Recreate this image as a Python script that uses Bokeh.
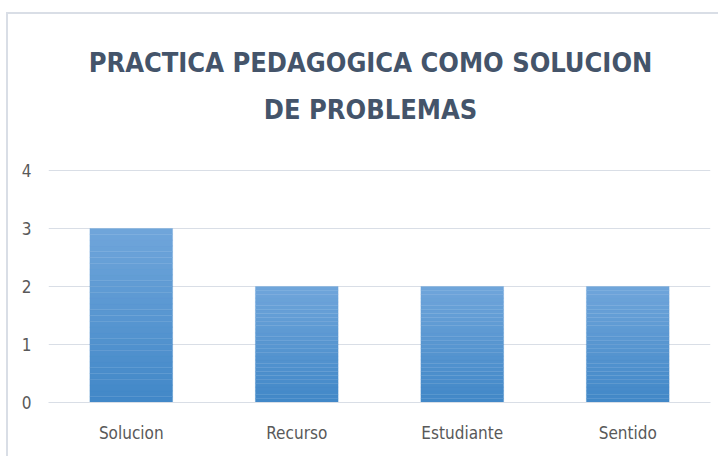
from bokeh.plotting import figure
from bokeh.models import Label, Range1d, FixedTicker
from bokeh.embed import file_html
from bokeh.resources import INLINE

categories = ["Solucion", "Recurso", "Estudiante", "Sentido"]
values = [3, 2, 2, 2]
title_lines = ["PRACTICA PEDAGOGICA COMO SOLUCION", "DE PROBLEMAS"]
y_ticks = [0, 1, 2, 3, 4]

FONT = "'DejaVu Sans Condensed', 'Liberation Sans', sans-serif"

p = figure(x_range=categories, y_range=Range1d(0, 6.586), width=712, height=444,
           output_backend="svg", toolbar_location=None,
           min_border_left=40, min_border_right=10, min_border_top=6, min_border_bottom=56)
p.x_range.range_padding = 0

# gradient-like bars: slices of each bar, darker at the bottom
n = 30
top_c = (0x70, 0xA6, 0xDB)
bot_c = (0x42, 0x88, 0xC8)
for i in range(n):
    t = (i + 0.5) / n
    c = tuple(int(bot_c[k] + (top_c[k] - bot_c[k]) * t) for k in range(3))
    col = "#%02x%02x%02x" % c
    p.vbar(x=categories, bottom=[v * i / n for v in values], top=[v * (i + 1) / n for v in values],
           width=0.5, fill_color=col, line_color=col, line_width=0.3)

p.outline_line_color = None
p.xgrid.grid_line_color = None
p.ygrid.grid_line_color = "#D9DEE6"
p.ygrid.grid_line_width = 1
p.yaxis.ticker = FixedTicker(ticks=y_ticks)
for ax in (p.xaxis, p.yaxis):
    ax.axis_line_color = None
    ax.major_tick_line_color = None
    ax.minor_tick_line_color = None
    ax.major_label_text_font = FONT
    ax.major_label_text_font_size = "17px"
    ax.major_label_text_color = "#595959"
p.xaxis.axis_line_color = "#D9DEE6"
p.yaxis.major_label_standoff = 11
p.xaxis.major_label_standoff = 14

offsets = [108, 61]
for line, off in zip(title_lines, offsets):
    p.add_layout(Label(x=2.0, y=4, text=line, x_offset=-9, y_offset=off,
                       text_align="center", text_baseline="middle",
                       text_font=FONT, text_font_style="bold",
                       text_font_size="27px", text_color="#44546A"))

p.margin = (12, 0, 0, 6)
p.styles = {"border-left": "2px solid #D9DEE6", "border-top": "2px solid #D9DEE6"}

open("out.html", "w").write(file_html(p, INLINE))
